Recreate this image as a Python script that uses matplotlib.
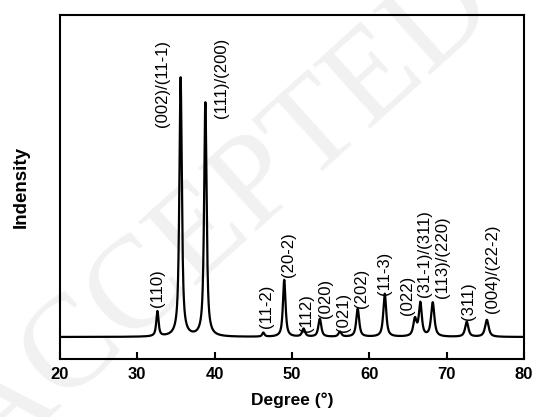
import numpy as np
import matplotlib.pyplot as plt

plt.rcParams['font.family'] = ['Liberation Sans', 'DejaVu Sans']

# peaks (degree, height above baseline, fwhm)
peak_pos = [32.6, 35.6, 38.8, 46.3, 49.0, 51.5, 53.6, 56.2, 58.5, 62.0, 65.9, 66.6, 68.2, 72.6, 75.2]
peak_height = [25, 259, 234, 4, 57, 8, 18, 5, 28, 43, 17, 33, 34, 15, 17]
peak_fwhm = [0.35, 0.38, 0.38, 0.35, 0.40, 0.45, 0.45, 0.45, 0.45, 0.45, 0.50, 0.45, 0.50, 0.50, 0.55]

# hkl labels: text, x (degree), y (bottom of text)
label_text = ["(110)", "(002)/(11-1)", "(111)/(200)", "(11-2)", "(20-2)", "(112)", "(020)",
              "(021)", "(202)", "(11-3)", "(022)", "(31-1)/(311)", "(113)/(220)", "(311)",
              "(004)/(22-2)"]
label_x = [32.6, 33.3, 40.9, 46.7, 49.5, 51.9, 54.3, 56.6, 59.0, 62.0, 64.9, 67.2, 69.5, 72.8, 75.9]
label_y = [30, 210, 219, 9, 60, 5, 19, 5, 29, 42, 22, 40, 39, 17, 24]

x_ticks = [20, 30, 40, 50, 60, 70, 80]


def pseudo_voigt(x, x0, h, w, eta=0.8):
    g = np.exp(-4 * np.log(2) * ((x - x0) / w) ** 2)
    l = 1 / (1 + 4 * ((x - x0) / w) ** 2)
    return h * (eta * l + (1 - eta) * g)


two_theta = np.arange(20, 80.001, 0.02)
intensity = np.zeros_like(two_theta)
for p, h, w in zip(peak_pos, peak_height, peak_fwhm):
    intensity += pseudo_voigt(two_theta, p, h, w)

fig = plt.figure(figsize=(5.35, 4.17), dpi=100)
ax = fig.add_axes([0.1121, 0.1391, 0.8673, 0.8249])
ax.set_zorder(2)
ax.patch.set_alpha(0)

# faint watermark behind everything
fig.text(0.42, 0.48, "ACCEPTED", fontsize=95, family="Liberation Serif", color="#f1f1f1",
         rotation=42, ha="center", va="center", zorder=-5)

ax.plot(two_theta, intensity, color="black", lw=1.6)

for t, lx, ly in zip(label_text, label_x, label_y):
    ax.text(lx, ly, t, rotation=90, ha="center", va="bottom", fontsize=12)

ax.set_xlim(20, 80)
ax.set_ylim(-22, 322)
ax.set_xticks(x_ticks)
ax.set_yticks([])
ax.tick_params(axis="x", direction="in", length=5, width=1.5, labelsize=12, pad=6)
for lab in ax.get_xticklabels():
    lab.set_fontweight("bold")
for s in ax.spines.values():
    s.set_linewidth(1.5)

ax.set_xlabel("Degree (°)", fontsize=12.5, fontweight="bold", labelpad=7)
ax.set_ylabel("Indensity", fontsize=13.5, fontweight="bold", labelpad=22)

fig.savefig("out.png", dpi=100)
